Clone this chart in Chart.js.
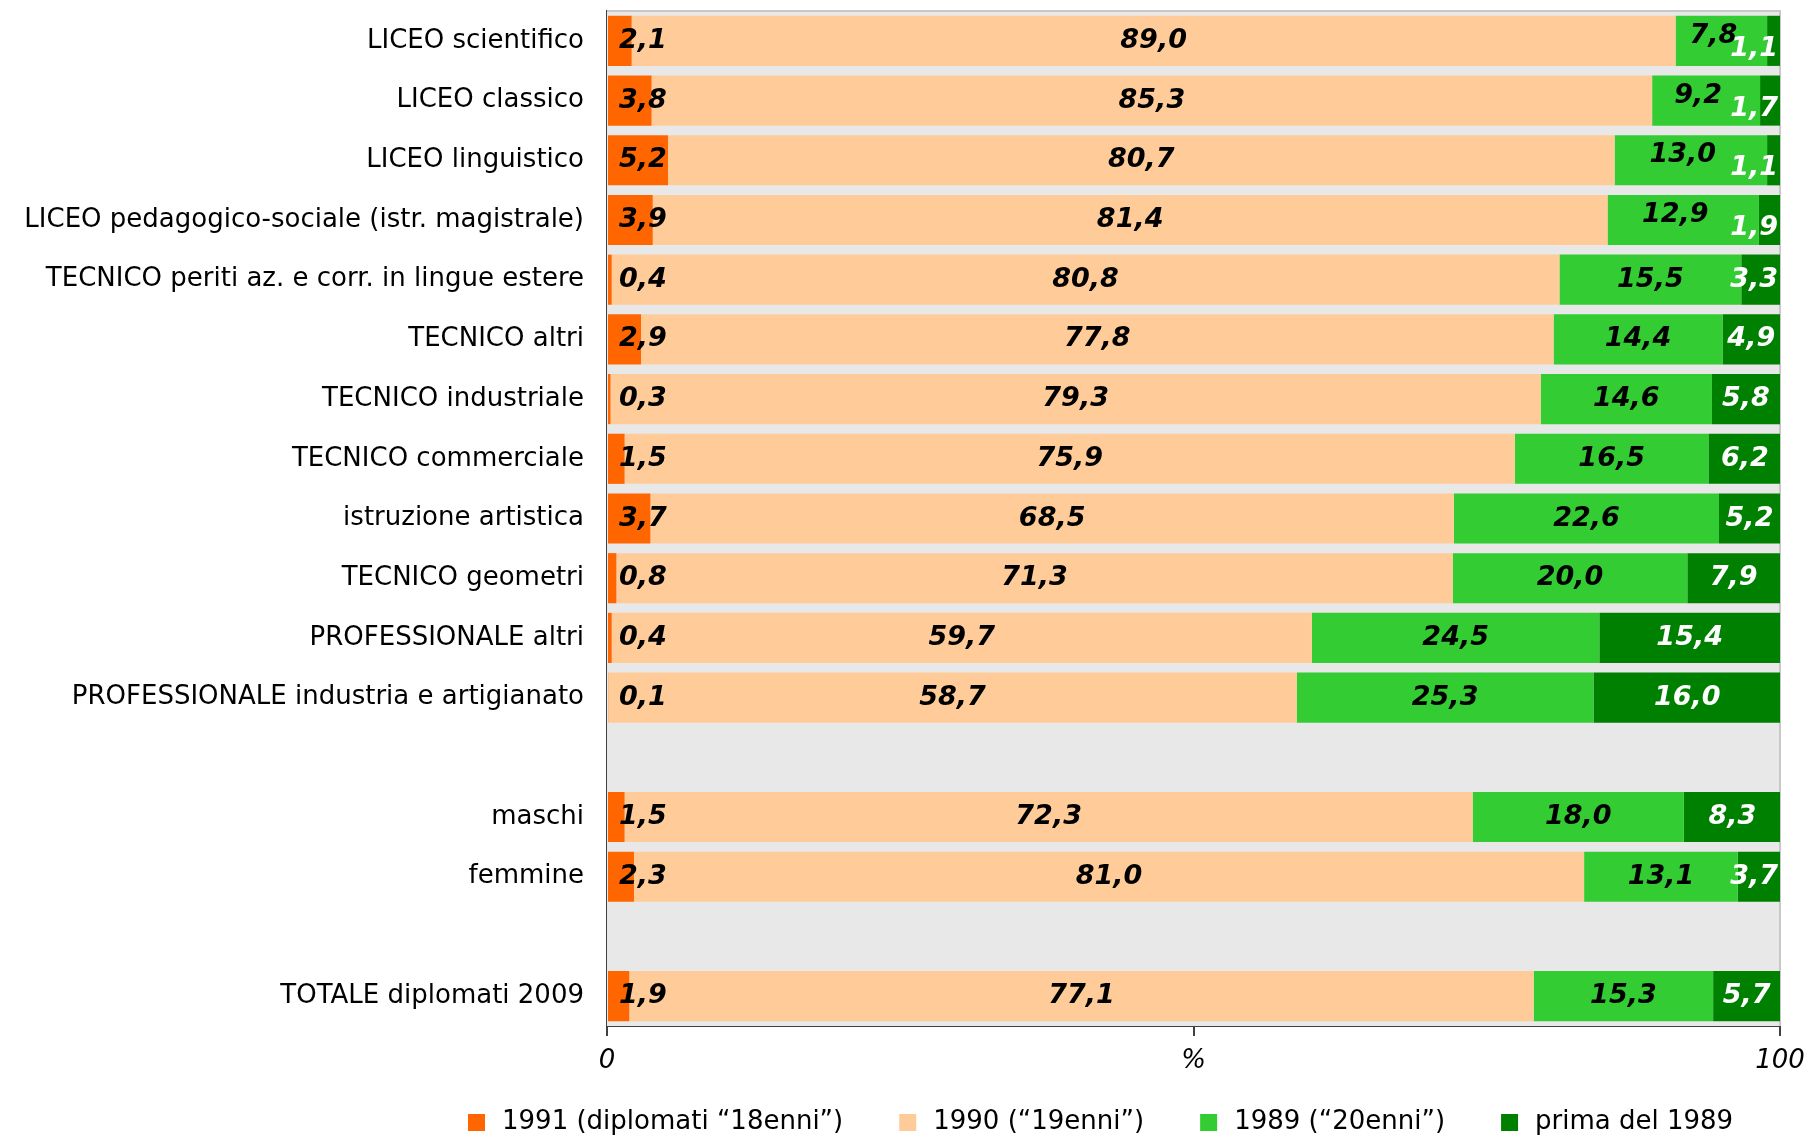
<!DOCTYPE html>
<html>
<head>
<meta charset="utf-8">
<script src="https://cdn.jsdelivr.net/npm/chart.js@4.4.0/dist/chart.umd.min.js"></script>
<style>
  html, body { margin: 0; padding: 0; background: #fff; }
</style>
</head>
<body>
<canvas id="chart" width="1805" height="1137"></canvas>
<script>
const categories = [
  'LICEO scientifico',
  'LICEO classico',
  'LICEO linguistico',
  'LICEO pedagogico-sociale (istr. magistrale)',
  'TECNICO periti az. e corr. in lingue estere',
  'TECNICO altri',
  'TECNICO industriale',
  'TECNICO commerciale',
  'istruzione artistica',
  'TECNICO geometri',
  'PROFESSIONALE altri',
  'PROFESSIONALE industria e artigianato',
  '',
  'maschi',
  'femmine',
  '',
  'TOTALE diplomati 2009'
];
const seriesNames = ['1991 (diplomati “18enni”)', '1990 (“19enni”)', '1989 (“20enni”)', 'prima del 1989'];
const seriesColors = ['#FF6600', '#FFCC99', '#33CC33', '#008000'];
const val1991 = [2.1, 3.8, 5.2, 3.9, 0.4, 2.9, 0.3, 1.5, 3.7, 0.8, 0.4, 0.1, null, 1.5, 2.3, null, 1.9];
const val1990 = [89.0, 85.3, 80.7, 81.4, 80.8, 77.8, 79.3, 75.9, 68.5, 71.3, 59.7, 58.7, null, 72.3, 81.0, null, 77.1];
const val1989 = [7.8, 9.2, 13.0, 12.9, 15.5, 14.4, 14.6, 16.5, 22.6, 20.0, 24.5, 25.3, null, 18.0, 13.1, null, 15.3];
const valPrima = [1.1, 1.7, 1.1, 1.9, 3.3, 4.9, 5.8, 6.2, 5.2, 7.9, 15.4, 16.0, null, 8.3, 3.7, null, 5.7];
const xTicks = [0, 50, 100];
const xTickLabels = ['0', '%', '100'];

const fmt = v => v.toFixed(1).replace('.', ',');
const FONT = '"DejaVu Sans", Verdana, sans-serif';

// sfondo grigio dell'area e bordo sopra/destra
const plotBackground = {
  id: 'plotBackground',
  beforeDatasetsDraw(chart) {
    const { ctx, chartArea: a } = chart;
    ctx.save();
    ctx.fillStyle = '#E8E8E8';
    ctx.fillRect(a.left, a.top, a.right - a.left, a.bottom - a.top);
    ctx.strokeStyle = '#C8C8C8';
    ctx.lineWidth = 2;
    ctx.beginPath();
    ctx.moveTo(a.left, a.top);
    ctx.lineTo(a.right, a.top);
    ctx.lineTo(a.right, a.bottom);
    ctx.stroke();
    ctx.restore();
  }
};

// etichette dei valori sulle barre
const valueLabels = {
  id: 'valueLabels',
  afterDatasetsDraw(chart) {
    const { ctx, chartArea: area } = chart;
    ctx.save();
    ctx.font = 'italic bold 27px ' + FONT;
    ctx.textBaseline = 'middle';
    ctx.textAlign = 'center';
    chart.data.labels.forEach((_, i) => {
      const items = chart.data.datasets.map((ds, di) => {
        const v = ds.data[i];
        if (v == null) return null;
        const bar = chart.getDatasetMeta(di).data[i];
        const { x, base, y } = bar.getProps(['x', 'base', 'y'], true);
        const text = fmt(v);
        const w = ctx.measureText(text).width;
        let cx = di === 0 ? base + 11 + w / 2 : (base + x) / 2;
        cx = Math.min(cx, area.right - 2 - w / 2);
        return { text, cx, w, y, dy: 0, color: di === 3 ? '#FFFFFF' : '#000000' };
      });
      const g = items[2], d = items[3];
      if (g && d && (d.cx - d.w / 2) - (g.cx + g.w / 2) < 30) {
        g.dy = -5;
        g.cx -= 8;
        d.dy = 8;
      }
      items.forEach(it => {
        if (!it) return;
        ctx.fillStyle = it.color;
        ctx.fillText(it.text, it.cx, it.y + it.dy);
      });
    });
    ctx.restore();
  }
};

// legenda in basso
const bottomLegend = {
  id: 'bottomLegend',
  afterDraw(chart) {
    const ctx = chart.ctx;
    const yc = 1122;
    let x = 468;
    ctx.save();
    ctx.font = '26px ' + FONT;
    ctx.textBaseline = 'middle';
    ctx.textAlign = 'left';
    chart.data.datasets.forEach(ds => {
      ctx.fillStyle = ds.backgroundColor;
      ctx.fillRect(x, yc - 8, 17, 17);
      ctx.fillStyle = '#000';
      ctx.fillText(ds.label, x + 34, yc);
      x += 34 + ctx.measureText(ds.label).width + 56;
    });
    ctx.restore();
  }
};

const allValues = [val1991, val1990, val1989, valPrima];

new Chart(document.getElementById('chart'), {
  type: 'bar',
  data: {
    labels: categories,
    datasets: allValues.map((vals, k) => ({
      label: seriesNames[k],
      data: vals,
      backgroundColor: seriesColors[k],
      borderWidth: 0,
      barPercentage: 0.84,
      categoryPercentage: 1.0
    }))
  },
  options: {
    indexAxis: 'y',
    responsive: false,
    animation: false,
    layout: { padding: { left: 0, right: 25, top: 11, bottom: 0 } },
    plugins: {
      legend: { display: false },
      tooltip: { enabled: false }
    },
    scales: {
      x: {
        stacked: true,
        min: 0,
        max: 100,
        afterBuildTicks: (scale) => {
          scale.ticks = xTicks.map(v => ({ value: v }));
        },
        afterFit: (scale) => {
          scale.height = 111;
          scale.paddingLeft = 0;
          scale.paddingRight = 0;
        },
        ticks: {
          autoSkip: false,
          maxRotation: 0,
          padding: 10,
          color: '#000',
          font: { family: FONT, size: 26, style: 'italic' },
          callback: (value) => xTickLabels[xTicks.indexOf(value)]
        },
        grid: {
          display: true,
          drawOnChartArea: false,
          drawTicks: true,
          tickLength: 10,
          color: '#404040',
          lineWidth: 2
        },
        border: { display: true, color: '#404040', width: 2 }
      },
      y: {
        stacked: true,
        afterFit: (scale) => {
          scale.width = 607;
          scale.paddingTop = 0;
          scale.paddingBottom = 0;
        },
        ticks: {
          autoSkip: false,
          padding: 23,
          color: '#000',
          font: { family: FONT, size: 26 }
        },
        grid: { display: false, drawTicks: false },
        border: { display: true, color: '#404040', width: 2 }
      }
    }
  },
  plugins: [plotBackground, valueLabels, bottomLegend]
});
</script>
</body>
</html>
